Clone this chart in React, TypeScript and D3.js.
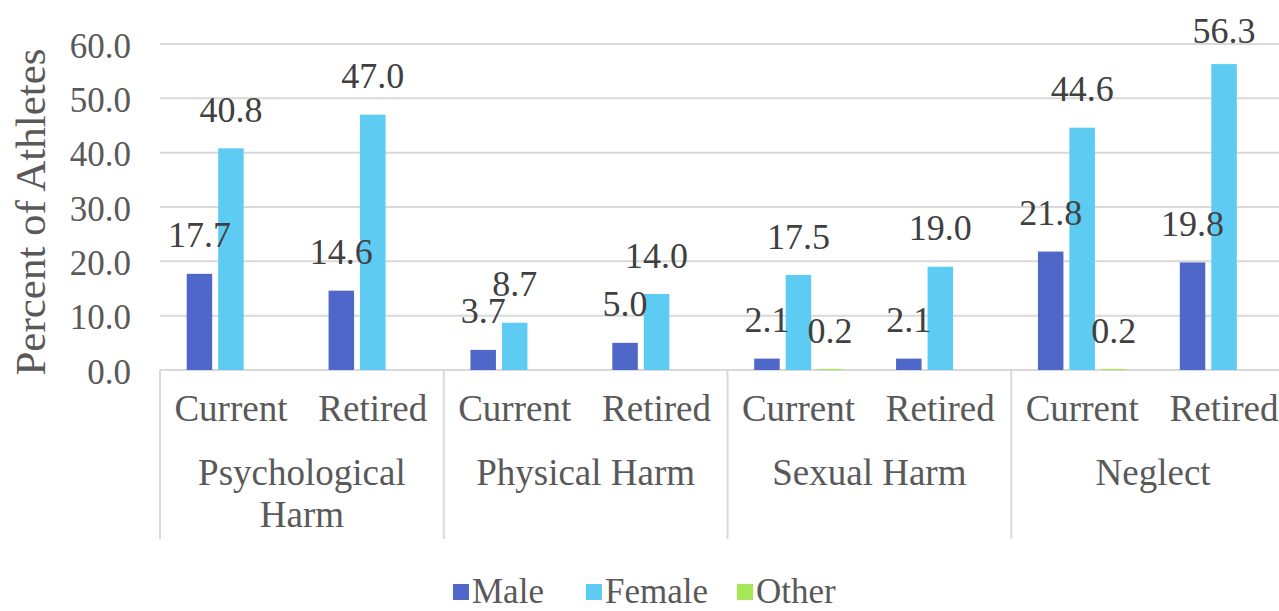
import React from "react";
import * as d3 from "d3";

const groups = ["Psychological Harm", "Physical Harm", "Sexual Harm", "Neglect"];
const groupLines = [["Psychological", "Harm"], ["Physical Harm"], ["Sexual Harm"], ["Neglect"]];
const subs = ["Current", "Retired"];
const seriesNames = ["Male", "Female", "Other"];
const maleVals = [17.7, 14.6, 3.7, 5.0, 2.1, 2.1, 21.8, 19.8];
const femaleVals = [40.8, 47.0, 8.7, 14.0, 17.5, 19.0, 44.6, 56.3];
const otherVals: (number | null)[] = [null, null, null, null, 0.2, null, 0.2, null];
const yTicks = [0, 10, 20, 30, 40, 50, 60];
const colors = ["#4e67c8", "#5ecbf3", "#a5e853"];

const W = 1279, H = 611;
const FONT = "'Liberation Serif', 'Times New Roman', serif";

export default function App() {
  const left = 160, right = 1295, top = 44, bottom = 370;
  const y = d3.scaleLinear().domain([0, 60]).range([bottom, top]);
  const keys = groups.flatMap((g, gi) => subs.map((s) => `${gi}-${s}`));
  const x0 = d3.scaleBand().domain(keys).range([left, right]).padding(0);
  const bw = x0.bandwidth();
  const barW = 25.5, gap = 6;
  const clusterW = barW * 3 + gap * 2;
  const x1 = d3.scaleBand().domain(seriesNames).range([(bw - clusterW) / 2, (bw + clusterW) / 2]).paddingInner(gap / (barW + gap)).paddingOuter(0);
  const series = [maleVals, femaleVals, otherVals];
  const gW = (right - left) / groups.length;
  const legend = [{ n: "Male", sx: 453 }, { n: "Female", sx: 586 }, { n: "Other", sx: 737 }];

  return (
    <svg width={W} height={H} style={{ position: "absolute", left: 0, top: 0, background: "#fff" }} fontFamily={FONT}>
      {yTicks.map((t) => (
        <g key={t}>
          <line x1={left} x2={W} y1={y(t)} y2={y(t)} stroke="#d9d9d9" strokeWidth={2} />
          <text x={131} y={y(t) + 2} dy="0.33em" textAnchor="end" fontSize={35} fill="#595959">{t.toFixed(1)}</text>
        </g>
      ))}
      {groups.map((g, gi) => (
        <line key={g} x1={left + gi * gW} x2={left + gi * gW} y1={bottom} y2={539} stroke="#d9d9d9" strokeWidth={2} />
      ))}
      {series.map((vals, si) =>
        vals.map((v, i) =>
          v == null ? null : (
            <rect key={`${si}-${i}`} x={x0(keys[i])! + x1(seriesNames[si])!} y={y(v)} width={x1.bandwidth()} height={Math.max(0, bottom - y(v))} fill={colors[si]} />
          )
        )
      )}
      {series.map((vals, si) =>
        vals.map((v, i) =>
          v == null ? null : (
            <text key={`l${si}-${i}`} x={x0(keys[i])! + x1(seriesNames[si])! + x1.bandwidth() / 2} y={Math.max(y(v) - 39, 30)} dy="0.35em" textAnchor="middle" fontSize={36} fill="#404040">{v.toFixed(1)}</text>
          )
        )
      )}
      {keys.map((k, i) => (
        <text key={k} x={x0(k)! + bw / 2} y={421} textAnchor="middle" fontSize={37} fill="#595959">{subs[i % 2]}</text>
      ))}
      {groupLines.map((lines, gi) =>
        lines.map((ln, li) => (
          <text key={`${gi}-${li}`} x={left + gi * gW + gW / 2} y={485 + li * 42} textAnchor="middle" fontSize={37} fill="#595959">{ln}</text>
        ))
      )}
      <text transform={`translate(45,212) rotate(-90)`} textAnchor="middle" fontSize={43} fill="#595959">Percent of Athletes</text>
      {legend.map((l, i) => (
        <g key={l.n}>
          <rect x={l.sx} y={584} width={16} height={16} fill={colors[i]} />
          <text x={l.sx + 19} y={603} fontSize={35} fill="#595959">{l.n}</text>
        </g>
      ))}
    </svg>
  );
}
